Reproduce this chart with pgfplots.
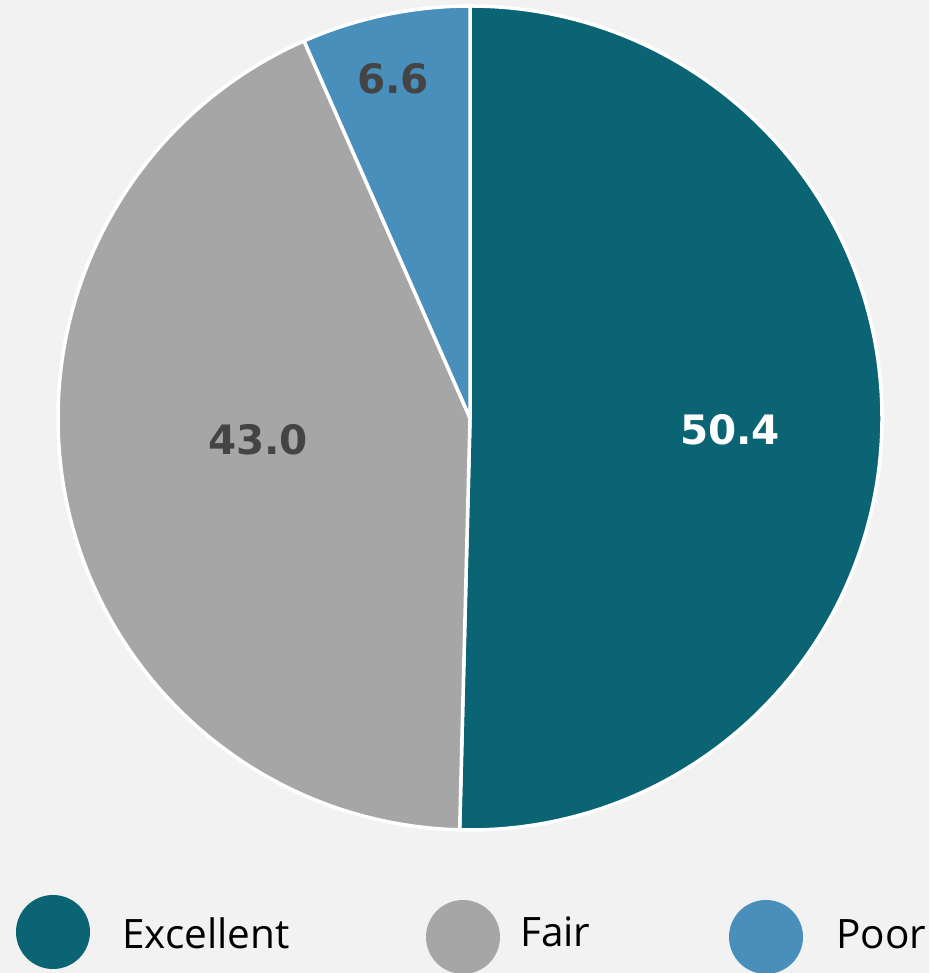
\documentclass[border=0pt]{standalone}
\usepackage{pgfplots}
\usepackage{pgfplotstable}
\usepackage{fontspec}
\pgfplotsset{compat=1.18}
\setmainfont{Open Sans}
\newfontfamily\numfont{DejaVu Sans}

\definecolor{bg}{HTML}{F2F2F2}
\definecolor{cexc}{HTML}{0A6473}
\definecolor{cfair}{HTML}{A6A6A6}
\definecolor{cpoor}{HTML}{4890BB}
\definecolor{lbl}{HTML}{444444}

% shares in percent
\pgfplotstableread{
label value
Excellent 50.4
Fair 43.0
Poor 6.6
}\piedata

\pgfplotstablegetelem{0}{value}\of\piedata \let\vA\pgfplotsretval
\pgfplotstablegetelem{1}{value}\of\piedata \let\vB\pgfplotsretval
\pgfplotstablegetelem{2}{value}\of\piedata \let\vC\pgfplotsretval
\pgfmathsetmacro{\aA}{90}
\pgfmathsetmacro{\aB}{\aA-3.6*\vA}
\pgfmathsetmacro{\aC}{\aB-3.6*\vB}
\pgfmathsetmacro{\aD}{\aC-3.6*\vC}

\newcommand{\pct}[1]{\pgfmathprintnumber[fixed,fixed zerofill,precision=1,assume math mode=true]{#1}}

\begin{document}
\begin{tikzpicture}
\begin{axis}[
  scale only axis,
  width=929pt, height=973pt,
  xmin=0, xmax=929, ymin=0, ymax=973,
  hide axis,
  clip=true,
]
\fill[bg] (axis cs:0,0) rectangle (axis cs:929,973);
% wedges, clockwise from 12 o'clock
\filldraw[fill=cexc, draw=white, line width=3.5pt, line join=round]
  (axis cs:470,555) -- ++(\aA:412pt) arc[start angle=\aA, end angle=\aB, radius=412pt] -- cycle;
\filldraw[fill=cfair, draw=white, line width=3.5pt, line join=round]
  (axis cs:470,555) -- ++(\aB:412pt) arc[start angle=\aB, end angle=\aC, radius=412pt] -- cycle;
\filldraw[fill=cpoor, draw=white, line width=3.5pt, line join=round]
  (axis cs:470,555) -- ++(\aC:412pt) arc[start angle=\aC, end angle=\aD, radius=412pt] -- cycle;
% value labels
\node[text=white, font=\numfont\bfseries\fontsize{40.5}{48}\selectfont]
  at (axis cs:730,543) {\pct{\vA}};
\node[text=lbl, font=\numfont\bfseries\fontsize{40.5}{48}\selectfont]
  at (axis cs:258,533) {\pct{\vB}};
\node[text=lbl, font=\numfont\bfseries\fontsize{40.5}{48}\selectfont]
  at (axis cs:393,894) {\pct{\vC}};
% legend
\fill[cexc] (axis cs:53,41) circle[radius=37pt];
\fill[cfair] (axis cs:463,36) circle[radius=37pt];
\fill[cpoor] (axis cs:766,36) circle[radius=37pt];
\node[anchor=base west, inner sep=0pt, font=\fontsize{40.5}{48}\selectfont]
  at (axis cs:122,24) {Excellent};
\node[anchor=base west, inner sep=0pt, font=\fontsize{40.5}{48}\selectfont]
  at (axis cs:520,26) {Fair};
\node[anchor=base west, inner sep=0pt, font=\fontsize{40.5}{48}\selectfont]
  at (axis cs:836,24) {Poor};
\end{axis}
\end{tikzpicture}
\end{document}
